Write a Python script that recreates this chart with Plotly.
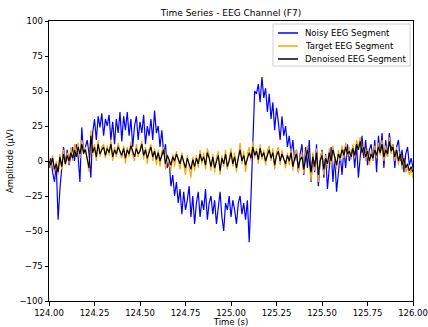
import numpy as np
import plotly.graph_objects as go

# Time axis: 2 s of F7 channel at 100 samples per second
t_start = 124.0
n_samples = 201
sample_step = 0.01

# Noisy EEG segment (µV)
noisy = [
    -5, 2, -8, -15, -3, -42, -20, -5, 10, -2,
    8, -3, 5, 10, 0, 12, 3, -15, 24, 5,
    10, 15, 5, -12, 20, 30, 15, 32, 24, 34,
    18, 30, 25, 33, 15, 28, 12, 30, 20, 35,
    14, 32, 22, 35, 18, 30, 10, 25, 32, 15,
    28, 20, 33, 12, 25, 18, 30, 15, 36, 20,
    25, 10, 22, 5, 12, -5, 0, -18, -10, -25,
    -15, -30, -20, -38, -22, -35, -28, -18, -40, -25,
    -45, -30, -22, -40, -28, -35, -20, -42, -30, -25,
    -38, -28, -45, -32, -22, -40, -50, -30, -35, -25,
    -40, -28, -35, -45, -30, -25, -38, -30, -42, -28,
    -58, -25, 20, 50, 48, 55, 42, 60, 45, 52,
    35, 48, 30, 42, 22, 38, 28, 15, 32, 18,
    25, 10, 18, 5, 15, 0, 8, -8, 5, 12,
    -10, 10, -5, 15, -15, 5, -8, 12, -18, 0,
    8, -12, 5, -20, -5, 10, -15, 3, -22, -8,
    5, -10, 8, -5, 12, 0, 5, 10, -5, 12,
    -12, 5, 18, 2, 15, -3, 8, 12, 0, 15,
    -8, 18, 5, 20, -5, 15, 3, 20, 8, 12,
    -5, 10, 15, 0, 8, -8, 5, 10, -3, 2, -5,
]

# Clean target EEG segment (µV)
target = [
    2, -5, 4, -8, 0, -10, 5, -6, 8, -3,
    6, -2, 10, 0, 12, 5, 13, 2, 15, 8,
    10, 0, -8, 22, 4, 12, 0, 15, 3, 10,
    12, 2, 11, 4, 15, 0, 10, 3, 13, 6,
    2, 11, -2, 10, 3, 14, 4, 0, 12, 3,
    9, 14, 1, 10, -2, 8, 12, 0, 9, -3,
    8, -4, 7, 10, -6, 5, -2, -7, 5, -4,
    7, 0, -6, 6, -3, -10, 4, -6, -12, 3,
    -7, 4, -5, 8, -2, 6, -6, 9, 4, -7,
    5, -8, 2, 7, -10, 4, -4, 8, -6, 2,
    9, -4, 6, -8, 4, 13, -2, 7, -8, 5,
    10, 0, 14, 2, 9, -2, 12, 1, 8, -3,
    7, 11, 0, 9, -6, 6, 10, -3, 8, 0,
    -5, 6, -3, 9, -7, 4, 8, -8, 3, 6,
    -9, 5, 11, -3, -14, 6, -7, 9, -15, 2,
    7, -10, 4, -5, 9, -3, 11, 1, -6, 8,
    0, 11, 2, 13, 3, 10, 1, 12, 2, 15,
    10, 17, 4, 12, 0, 9, -3, 7, 0, 11,
    2, 13, 4, 15, 0, 11, 3, 17, 5, 12,
    0, 10, -3, 7, -6, 4, -8, -4, -10, -6, -12,
]

# Model output: denoised EEG segment (µV)
denoised = [
    0, -3, 2, -6, -2, -8, 3, -4, 5, -2,
    4, 0, 6, 2, 8, 3, 10, 5, 12, 6,
    8, 2, -5, 18, 6, 10, 3, 12, 5, 8,
    10, 4, 9, 6, 12, 3, 8, 5, 10, 7,
    4, 9, 2, 8, 5, 11, 6, 3, 9, 5,
    7, 12, 4, 8, 2, 6, 10, 3, 7, 1,
    6, 0, 5, 8, -2, 4, 1, -3, 3, 0,
    5, 2, -2, 4, 0, -5, 2, -3, -6, 1,
    -4, 2, -2, 5, 0, 3, -3, 6, 2, -4,
    3, -5, 0, 4, -7, 2, -2, 5, -4, 0,
    6, -2, 3, -5, 2, 8, 0, 4, -3, 2,
    6, 2, 10, 4, 7, 1, 9, 3, 6, 0,
    5, 8, 2, 6, -3, 4, 7, 0, 5, 2,
    -2, 4, 0, 6, -4, 2, 5, -5, 1, 3,
    -6, 2, 8, 0, -8, 3, -4, 6, -10, 0,
    4, -6, 2, -2, 6, 0, 8, 3, -3, 5,
    2, 8, 4, 10, 5, 7, 3, 9, 4, 12,
    8, 14, 6, 10, 3, 7, 0, 5, 2, 8,
    4, 10, 6, 12, 3, 8, 5, 14, 7, 10,
    3, 8, 0, 5, -3, 2, -5, -2, -7, -4, -8,
]

series_names = ["Noisy EEG Segment", "Target EEG Segment", "Denoised EEG Segment"]
series_colors = ["#0000ff", "#ffa500", "#000000"]

x_ticks = [124.0, 124.25, 124.5, 124.75, 125.0, 125.25, 125.5, 125.75, 126.0]
y_ticks = [-100, -75, -50, -25, 0, 25, 50, 75, 100]

time = t_start + sample_step * np.arange(n_samples)

FONT = "DejaVu Sans"
W, H = 428, 327
M_L, M_R, M_T, M_B = 49, 15, 21, 26
plot_w = W - M_L - M_R
plot_h = H - M_T - M_B


def px_x(p):
    """Pixel column -> paper x fraction of the plot area."""
    return (p - M_L) / plot_w


def px_y(p):
    """Pixel row -> paper y fraction of the plot area."""
    return (H - M_B - p) / plot_h


fig = go.Figure()
for values, name, color in zip([noisy, target, denoised], series_names, series_colors):
    fig.add_trace(go.Scatter(x=time, y=values, mode="lines", name=name,
                             line=dict(color=color, width=1.2), showlegend=False))

axis_common = dict(
    showline=True, linecolor="black", linewidth=1, mirror=True,
    ticks="outside", ticklen=3.5, tickwidth=0.8, tickcolor="black",
    showgrid=False, zeroline=False, automargin=False,
    tickfont=dict(family=FONT, size=8.5, color="black"),
)

# Legend box drawn in the upper-right corner of the axes
shapes = [dict(type="rect", xref="paper", yref="paper",
               x0=px_x(273), x1=px_x(410), y0=px_y(66), y1=px_y(24),
               line=dict(color="#d0d0d0", width=1), fillcolor="rgba(255,255,255,0.8)",
               layer="above")]
annotations = []
for k, (name, color) in enumerate(zip(series_names, series_colors)):
    row = 33 + 13 * k
    shapes.append(dict(type="line", xref="paper", yref="paper",
                       x0=px_x(278), x1=px_x(298), y0=px_y(row), y1=px_y(row),
                       line=dict(color=color, width=1.5), layer="above"))
    annotations.append(dict(text=name, xref="paper", yref="paper",
                            x=px_x(303), y=px_y(row), xanchor="left", yanchor="middle",
                            showarrow=False, font=dict(family=FONT, size=8.5, color="black")))

fig.update_layout(
    width=W, height=H,
    margin=dict(l=M_L, r=M_R, t=M_T, b=M_B),
    paper_bgcolor="white", plot_bgcolor="white",
    font=dict(family=FONT, size=8.5, color="black"),
    title=dict(text="Time Series - EEG Channel (F7)", x=(M_L + W - M_R) / 2 / W, xanchor="center",
               y=1 - 13 / H, yanchor="middle", font=dict(family=FONT, size=9, color="black")),
    xaxis=dict(range=[124.0, 126.0], tickvals=x_ticks,
               ticktext=[f"{v:.2f}" for v in x_ticks],
               title=dict(text="Time (s)", standoff=2, font=dict(family=FONT, size=8.5)),
               **axis_common),
    yaxis=dict(range=[-100, 100], tickvals=y_ticks,
               title=dict(text="Amplitude (µV)", standoff=4, font=dict(family=FONT, size=8.5)),
               **axis_common),
    shapes=shapes,
    annotations=annotations,
    showlegend=False,
)

fig.write_html("out.html")
